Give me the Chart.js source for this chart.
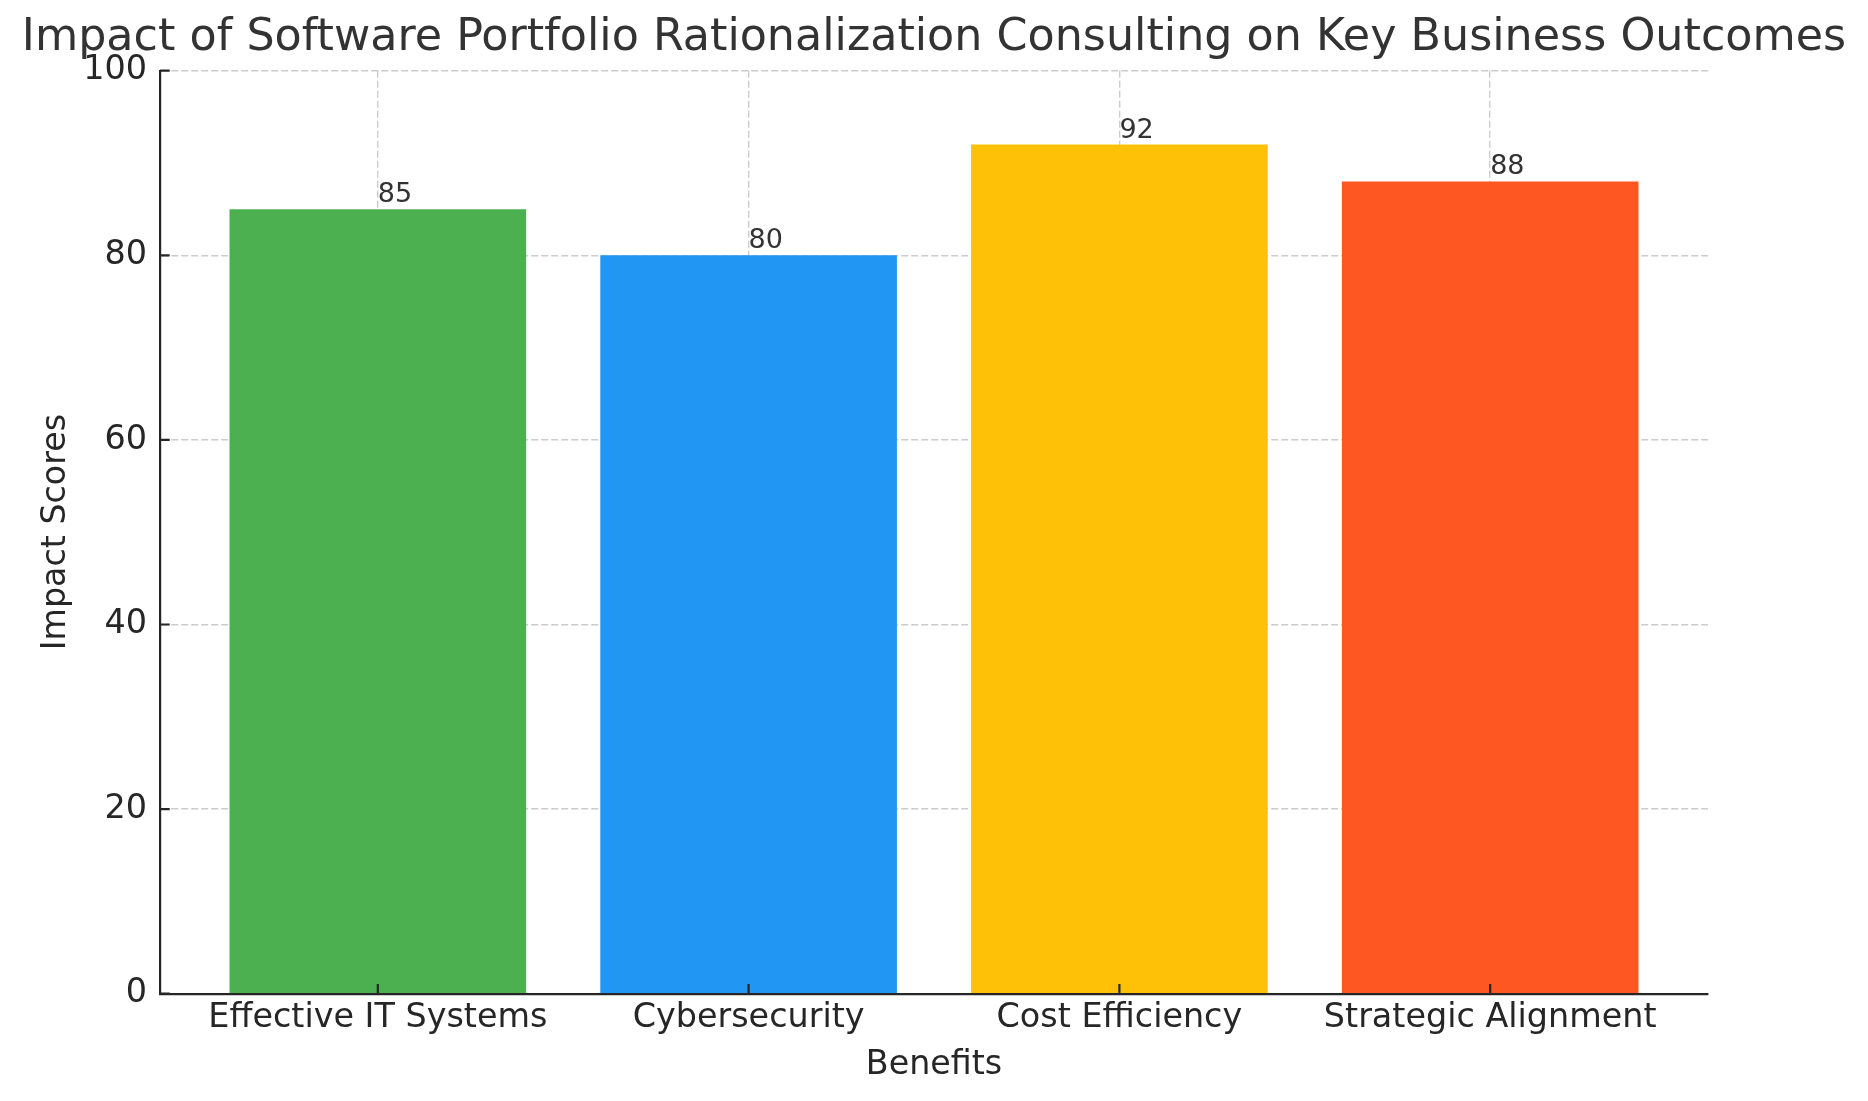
<!DOCTYPE html>
<html>
<head>
<meta charset="utf-8">
<title>Impact of Software Portfolio Rationalization Consulting</title>
<script src="https://cdn.jsdelivr.net/npm/chart.js@4.4.1/dist/chart.umd.min.js"></script>
<style>
  html, body { margin: 0; padding: 0; background: #fff; }
  canvas { display: block; }
</style>
</head>
<body>
<canvas id="chart" width="1868" height="1101"></canvas>
<script>
// data
const benefits = ['Effective IT Systems', 'Cybersecurity', 'Cost Efficiency', 'Strategic Alignment'];
const scores = [85, 80, 92, 88];
const barColors = ['#4CAF50', '#2196F3', '#FFC107', '#FF5722'];
const yTicks = [0, 20, 40, 60, 80, 100];

const chartTitle = 'Impact of Software Portfolio Rationalization Consulting on Key Business Outcomes';
const xTitle = 'Benefits';
const yTitle = 'Impact Scores';

document.addEventListener('DOMContentLoaded', init);

// small tick marks pointing into the plot (like the picture)
const innerTicks = {
    id: 'innerTicks',
    afterDraw(chart) {
        const ctx = chart.ctx;
        const area = chart.chartArea;
        const x = chart.scales.x;
        const y = chart.scales.y;
        ctx.save();
        ctx.strokeStyle = '#262626';
        ctx.lineWidth = 2.2;
        ctx.beginPath();
        x.ticks.forEach((t, i) => {
            const px = x.getPixelForTick(i);
            ctx.moveTo(px, area.bottom);
            ctx.lineTo(px, area.bottom - 9.7);
        });
        y.ticks.forEach((t, i) => {
            const py = y.getPixelForTick(i);
            ctx.moveTo(area.left, py);
            ctx.lineTo(area.left + 9.7, py);
        });
        ctx.stroke();
        ctx.restore();
    }
};

// value text above every bar, starting at the bar centre
const barLabels = {
    id: 'barLabels',
    afterDraw(chart) {
        const ctx = chart.ctx;
        const meta = chart.getDatasetMeta(0);
        ctx.save();
        ctx.font = '27px "DejaVu Sans"';
        ctx.fillStyle = '#333333';
        ctx.textAlign = 'left';
        ctx.textBaseline = 'alphabetic';
        meta.data.forEach((bar, i) => {
            ctx.fillText(String(scores[i]), bar.x, bar.y - 7);
        });
        ctx.restore();
    }
};

function init() {
    Chart.defaults.font.family = '"DejaVu Sans", sans-serif';
    const ctx = document.getElementById('chart').getContext('2d');

    new Chart(ctx, {
        type: 'bar',
        data: {
            datasets: [{
                data: scores.map((v, i) => ({ x: i, y: v })),
                backgroundColor: barColors,
                borderWidth: 0,
                categoryPercentage: 1.0,
                barPercentage: 0.8
            }]
        },
        options: {
            responsive: false,
            animation: false,
            devicePixelRatio: 1,
            layout: { padding: 0 },
            plugins: {
                legend: { display: false },
                tooltip: { enabled: false },
                title: {
                    display: true,
                    text: chartTitle,
                    color: '#333333',
                    font: { size: 44.4, weight: 'normal', lineHeight: 1.2 },
                    padding: { top: 11.5, bottom: 5.9 }
                }
            },
            scales: {
                x: {
                    type: 'linear',
                    min: -0.5875,
                    max: 3.5875,
                    offset: false,
                    z: 1,
                    afterBuildTicks(scale) {
                        scale.ticks = benefits.map((b, i) => ({ value: i }));
                    },
                    afterFit(scale) { scale.height = 107.3; },
                    grid: {
                        offset: false,
                        drawTicks: false,
                        color: 'rgba(176,176,176,0.65)',
                        lineWidth: 1.4
                    },
                    border: { display: true, color: '#262626', width: 2.2, dash: [7, 3] },
                    ticks: {
                        autoSkip: false,
                        maxRotation: 0,
                        padding: 4.6,
                        color: '#262626',
                        font: { size: 33.4 },
                        callback: (v) => benefits[v]
                    },
                    title: {
                        display: true,
                        text: xTitle,
                        color: '#262626',
                        font: { size: 33.3 },
                        padding: { top: 0, bottom: 15.5 }
                    }
                },
                y: {
                    min: 0,
                    max: 100,
                    z: 1,
                    afterBuildTicks(scale) {
                        scale.ticks = yTicks.map(v => ({ value: v }));
                    },
                    afterFit(scale) { scale.width = 160; },
                    grid: {
                        drawTicks: false,
                        color: 'rgba(176,176,176,0.65)',
                        lineWidth: 1.4
                    },
                    border: { display: true, color: '#262626', width: 2.2, dash: [7, 3] },
                    ticks: {
                        padding: 13,
                        color: '#262626',
                        font: { size: 33.4 }
                    },
                    title: {
                        display: true,
                        text: yTitle,
                        color: '#262626',
                        font: { size: 33.3 },
                        padding: { top: 36.3, bottom: 0 }
                    }
                },
                // empty right axis, only to keep the right margin
                y2: {
                    position: 'right',
                    display: true,
                    afterFit(scale) { scale.width = 160; },
                    grid: { display: false, drawTicks: false },
                    border: { display: false },
                    ticks: { display: false }
                }
            }
        },
        plugins: [innerTicks, barLabels]
    });
}
</script>
</body>
</html>
